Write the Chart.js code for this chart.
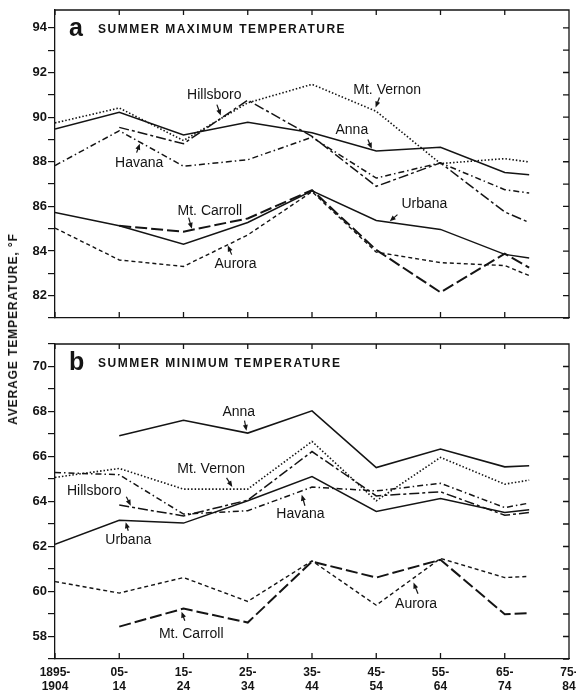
<!DOCTYPE html>
<html>
<head>
<meta charset="utf-8">
<script src="https://cdn.jsdelivr.net/npm/chart.js@4.4.1/dist/chart.umd.min.js"></script>
<style>
  body { margin: 0; background: #fff; }
  #page { position: relative; width: 576px; height: 695px; overflow: hidden; background: #fff; }
  #wrapA { position: absolute; left: 0; top: 0; width: 576px; height: 330px; }
  #wrapB { position: absolute; left: 0; top: 330px; width: 576px; height: 365px; }
  #ytitle {
    position: absolute; left: 13px; top: 329px;
    transform: translate(-50%, -50%) rotate(-90deg);
    font: bold 12px 'Liberation Sans', Arial, sans-serif;
    letter-spacing: 0.9px; white-space: nowrap; color: #111;
  }
</style>
</head>
<body>
<div id="page">
  <div id="wrapA"><canvas id="chartA" width="576" height="330"></canvas></div>
  <div id="wrapB"><canvas id="chartB" width="576" height="365"></canvas></div>
  <div id="ytitle">AVERAGE TEMPERATURE, °F</div>
</div>
<script>
// decade periods; the last point is the partial 1965-1980 period
const decadeLabels = [['1895-', '1904'], ['05-', '14'], ['15-', '24'], ['25-', '34'], ['35-', '44'],
                      ['45-', '54'], ['55-', '64'], ['65-', '74'], ['75-', '84']];
const periodX = [0, 1, 2, 3, 4, 5, 6, 7, 7.38];

// a: summer maximum temperature, °F
const maxAnna      = [89.47, 90.22, 89.20, 89.77, 89.30, 88.48, 88.65, 87.52, 87.42];
const maxMtVernon  = [89.74, 90.41, 88.95, 90.64, 91.47, 90.26, 87.92, 88.14, 87.99];
const maxHillsboro = [null, 89.54, 88.81, 90.76, 89.14, 86.90, 87.95, 85.75, 85.28];
const maxHavana    = [87.83, 89.39, 87.80, 88.09, 89.10, 87.27, 87.95, 86.75, 86.60];
const maxUrbana    = [85.73, 85.13, 84.31, 85.28, 86.70, 85.37, 84.97, 83.85, 83.69];
const maxAurora    = [85.03, 83.60, 83.31, 84.72, 86.66, 83.95, 83.48, 83.35, 82.90];
const maxMtCarroll = [null, 85.13, 84.87, 85.46, 86.73, 84.05, 82.15, 83.88, 83.26];

// b: summer minimum temperature, °F
const minAnna      = [null, 66.92, 67.61, 67.04, 68.03, 65.51, 66.33, 65.54, 65.59];
const minMtVernon  = [65.07, 65.47, 64.55, 64.55, 66.67, 64.03, 65.96, 64.77, 64.95];
const minHillsboro = [null, 63.84, 63.36, 64.06, 66.22, 64.25, 64.43, 63.39, 63.51];
const minHavana    = [65.29, 65.19, 63.44, 63.59, 64.64, 64.47, 64.81, 63.73, 63.93];
const minUrbana    = [62.10, 63.17, 63.04, 64.03, 65.11, 63.56, 64.13, 63.51, 63.63];
const minAurora    = [60.44, 59.93, 60.62, 59.56, 61.36, 59.39, 61.47, 60.62, 60.67];
const minMtCarroll = [null, 58.44, 59.24, 58.62, 61.33, 60.62, 61.41, 58.99, 59.04];

const ink = '#141414';

// line style per station
const styles = {
  'Anna':       { borderDash: [],            borderWidth: 1.6 },
  'Mt. Vernon': { borderDash: [1.5, 2],      borderWidth: 1.6 },
  'Hillsboro':  { borderDash: [10, 3, 3, 3], borderWidth: 1.5 },
  'Havana':     { borderDash: [6, 3, 1.5, 3],borderWidth: 1.5 },
  'Urbana':     { borderDash: [],            borderWidth: 1.5 },
  'Aurora':     { borderDash: [4, 3],        borderWidth: 1.4 },
  'Mt. Carroll':{ borderDash: [12, 4],       borderWidth: 2.0 }
};

function makeSet(name, values) {
  return {
    label: name,
    data: values.map((v, i) => ({ x: periodX[i], y: v })),
    borderColor: ink,
    borderDash: styles[name].borderDash,
    borderWidth: styles[name].borderWidth,
    pointRadius: 0,
    tension: 0,
    fill: false,
    spanGaps: false
  };
}

// station name tags with small arrows, placed in data units
const notesA = [
  { text: 'Hillsboro',   at: [2.48, 90.99], from: [2.52, 90.56], to: [2.58, 90.07] },
  { text: 'Havana',      at: [1.31, 87.92], from: [1.27, 88.41], to: [1.32, 88.81] },
  { text: 'Mt. Vernon',  at: [5.17, 91.23], from: [5.05, 90.88], to: [4.99, 90.43] },
  { text: 'Anna',        at: [4.62, 89.42], from: [4.87, 89.00], to: [4.93, 88.58] },
  { text: 'Mt. Carroll', at: [2.41, 85.81], from: [2.08, 85.50], to: [2.13, 85.00] },
  { text: 'Aurora',      at: [2.81, 83.43], from: [2.75, 83.84], to: [2.69, 84.25] },
  { text: 'Urbana',      at: [5.75, 86.12], from: [5.33, 85.63], to: [5.21, 85.33] }
];
const notesB = [
  { text: 'Anna',        at: [2.86, 67.99], from: [2.95, 67.59], to: [2.98, 67.14] },
  { text: 'Mt. Vernon',  at: [2.43, 65.43], from: [2.67, 65.05], to: [2.76, 64.65] },
  { text: 'Hillsboro',   at: [0.61, 64.48], from: [1.11, 64.21], to: [1.18, 63.81] },
  { text: 'Urbana',      at: [1.14, 62.28], from: [1.14, 62.70], to: [1.10, 63.08] },
  { text: 'Havana',      at: [3.82, 63.45], from: [3.89, 63.81], to: [3.84, 64.30] },
  { text: 'Mt. Carroll', at: [2.12, 58.12], from: [2.02, 58.70], to: [1.97, 59.10] },
  { text: 'Aurora',      at: [5.62, 59.45], from: [5.65, 59.90], to: [5.58, 60.40] }
];

// box, inward ticks, panel title and the name tags
const frameTicks = {
  id: 'frameTicks',
  afterDraw(chart, args, opts) {
    const { ctx, chartArea: a, scales: { x, y } } = chart;
    ctx.save();
    ctx.strokeStyle = ink;
    ctx.lineWidth = 1.3;
    ctx.beginPath();
    ctx.moveTo(a.left, a.top); ctx.lineTo(a.right, a.top); ctx.lineTo(a.right, a.bottom);
    x.ticks.forEach(t => {
      const px = x.getPixelForValue(t.value);
      ctx.moveTo(px, a.top); ctx.lineTo(px, a.top + 5);
      ctx.moveTo(px, a.bottom); ctx.lineTo(px, a.bottom - 6);
    });
    y.ticks.forEach(t => {
      const py = y.getPixelForValue(t.value);
      ctx.moveTo(a.right, py); ctx.lineTo(a.right - 6, py);
    });
    ctx.stroke();

    // panel letter + title
    ctx.fillStyle = ink;
    ctx.textBaseline = 'alphabetic';
    ctx.textAlign = 'left';
    ctx.font = "bold 25px 'Liberation Sans', Arial, sans-serif";
    ctx.fillText(opts.letter, a.left + 14, a.top + 26);
    ctx.font = "bold 12px 'Liberation Sans', Arial, sans-serif";
    if ('letterSpacing' in ctx) ctx.letterSpacing = '1.5px';
    ctx.fillText(opts.title, a.left + 43, a.top + 23);
    if ('letterSpacing' in ctx) ctx.letterSpacing = '0px';

    // name tags
    ctx.font = "14px 'Liberation Sans', Arial, sans-serif";
    ctx.textAlign = 'center';
    ctx.textBaseline = 'middle';
    ctx.lineWidth = 1.2;
    (opts.notes || []).forEach(n => {
      ctx.fillText(n.text, x.getPixelForValue(n.at[0]), y.getPixelForValue(n.at[1]));
      const x1 = x.getPixelForValue(n.from[0]), y1 = y.getPixelForValue(n.from[1]);
      const x2 = x.getPixelForValue(n.to[0]),   y2 = y.getPixelForValue(n.to[1]);
      const ang = Math.atan2(y2 - y1, x2 - x1);
      ctx.beginPath();
      ctx.moveTo(x1, y1); ctx.lineTo(x2 - 3 * Math.cos(ang), y2 - 3 * Math.sin(ang));
      ctx.stroke();
      ctx.beginPath();
      ctx.moveTo(x2, y2);
      ctx.lineTo(x2 - 6 * Math.cos(ang) + 2.5 * Math.sin(ang), y2 - 6 * Math.sin(ang) - 2.5 * Math.cos(ang));
      ctx.lineTo(x2 - 6 * Math.cos(ang) - 2.5 * Math.sin(ang), y2 - 6 * Math.sin(ang) + 2.5 * Math.cos(ang));
      ctx.closePath();
      ctx.fill();
    });
    ctx.restore();
  }
};

function intRange(lo, hi) {
  const out = [];
  for (let v = lo; v <= hi; v++) out.push(v);
  return out;
}

function buildPanel(canvasId, sets, yMin, yMax, cfg) {
  const tickFont = { family: "'Liberation Sans', Arial, sans-serif", size: 12, weight: 'bold' };
  return new Chart(document.getElementById(canvasId).getContext('2d'), {
    type: 'line',
    data: { datasets: sets },
    options: {
      responsive: false,
      animation: false,
      events: [],
      layout: { padding: { left: 0, right: 7, top: cfg.top, bottom: 0 } },
      plugins: {
        legend: { display: false },
        tooltip: { enabled: false },
        frameTicks: { letter: cfg.letter, title: cfg.title, notes: cfg.notes }
      },
      scales: {
        x: {
          type: 'linear',
          min: 0, max: 8,
          afterBuildTicks: s => { s.ticks = intRange(0, 8).map(v => ({ value: v })); },
          afterFit: s => { s.height = cfg.xHeight; s.paddingLeft = 0; s.paddingRight = 0; },
          grid: { drawOnChartArea: false, drawTicks: false },
          border: { display: true, color: ink, width: 1.3 },
          ticks: {
            display: cfg.showX,
            color: ink,
            font: tickFont,
            padding: 6,
            maxRotation: 0,
            autoSkip: false,
            callback: v => decadeLabels[v]
          }
        },
        y: {
          min: yMin, max: yMax,
          afterBuildTicks: s => { s.ticks = intRange(Math.ceil(yMin), Math.floor(yMax)).map(v => ({ value: v })); },
          afterFit: s => { s.width = 55; },
          grid: { drawOnChartArea: false, tickLength: 7, color: ink, lineWidth: 1.2 },
          border: { display: true, color: ink, width: 1.3 },
          ticks: {
            color: ink,
            font: { family: "'Liberation Sans', Arial, sans-serif", size: 13, weight: 'bold' },
            padding: 1,
            autoSkip: false,
            callback: v => (v % 2 === 0 ? String(v) : '')
          }
        }
      }
    },
    plugins: [frameTicks]
  });
}

buildPanel('chartA', [
  makeSet('Mt. Vernon', maxMtVernon),
  makeSet('Anna', maxAnna),
  makeSet('Hillsboro', maxHillsboro),
  makeSet('Havana', maxHavana),
  makeSet('Urbana', maxUrbana),
  makeSet('Aurora', maxAurora),
  makeSet('Mt. Carroll', maxMtCarroll)
], 81, 94.8, { top: 10, xHeight: 12, showX: false, letter: 'a',
              title: 'SUMMER MAXIMUM TEMPERATURE', notes: notesA });

buildPanel('chartB', [
  makeSet('Anna', minAnna),
  makeSet('Mt. Vernon', minMtVernon),
  makeSet('Hillsboro', minHillsboro),
  makeSet('Havana', minHavana),
  makeSet('Urbana', minUrbana),
  makeSet('Aurora', minAurora),
  makeSet('Mt. Carroll', minMtCarroll)
], 57, 71, { top: 14, xHeight: 36, showX: true, letter: 'b',
            title: 'SUMMER MINIMUM TEMPERATURE', notes: notesB });
</script>
</body>
</html>
